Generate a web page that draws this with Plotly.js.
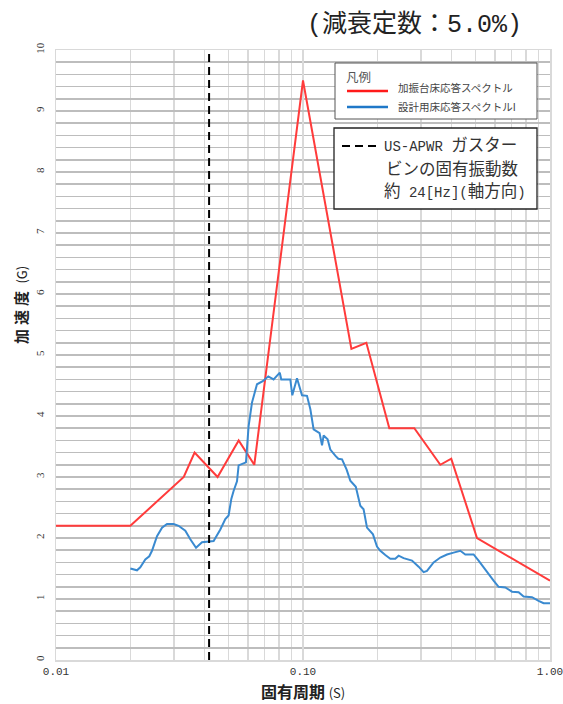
<!DOCTYPE html>
<html>
<head>
<meta charset="utf-8">
<script src="https://cdn.plot.ly/plotly-3.0.1.min.js"></script>
<style>html,body{margin:0;padding:0;background:#fff;}#chart{width:563px;height:704px;}</style>
</head>
<body>
<div id="chart"></div>
<script>
// ---- data ----
const redPeriod = [0.01, 0.02, 0.0329, 0.0364, 0.0451, 0.0549, 0.0635, 0.100, 0.157, 0.1805, 0.2236, 0.2823, 0.3597, 0.3983, 0.5064, 1.0];
const redAccel  = [2.2, 2.2, 3.0, 3.4, 3.0, 3.6, 3.2, 9.5, 5.1, 5.2, 3.8, 3.8, 3.2, 3.3, 2.0, 1.3];

const bluePeriod = [0.0200,0.02128,0.02194,0.02299,0.02386,0.02447,0.02564,0.02687,0.02815,0.02993,
  0.03135,0.03338,0.03498,0.03689,0.03901,0.04254,0.04347,0.04627,0.04847,0.04998,
  0.05126,0.05236,0.05405,0.05487,0.05876,0.06021,0.06215,0.06512,0.06873,0.07235,
  0.07603,0.08055,0.08168,0.08884,0.09051,0.09456,0.09908,0.1038,0.1071,0.1104,
  0.1167,0.1194,0.1212,0.1258,0.1290,0.1351,0.1390,0.1439,0.1502,0.1554,
  0.1636,0.1706,0.1759,0.1816,0.1920,0.1993,0.2056,0.2154,0.2257,0.2364,
  0.2438,0.2554,0.2762,0.2938,0.3078,0.3177,0.3379,0.3597,0.3828,0.4071,
  0.4334,0.4541,0.4906,0.5139,0.5557,0.5910,0.6193,0.6592,0.7019,0.7463,
  0.7819,0.8455,0.8991,0.9421,1.0];
const blueAccel = [1.50,1.47,1.52,1.65,1.70,1.79,2.03,2.17,2.23,2.23,
  2.20,2.12,1.98,1.84,1.93,1.94,1.95,2.14,2.31,2.37,
  2.64,2.77,2.93,3.19,3.24,3.83,4.22,4.52,4.57,4.65,
  4.60,4.71,4.60,4.60,4.34,4.62,4.34,4.33,4.11,3.78,
  3.72,3.52,3.68,3.62,3.45,3.35,3.30,3.29,3.12,2.94,
  2.84,2.53,2.47,2.17,2.06,1.86,1.79,1.72,1.66,1.66,
  1.71,1.67,1.63,1.53,1.44,1.46,1.60,1.68,1.73,1.76,
  1.79,1.73,1.73,1.63,1.44,1.30,1.20,1.19,1.12,1.11,
  1.04,1.03,0.97,0.93,0.93];

const turbineFreqHz = 24;          // US-APWR gas turbine natural frequency (axial)
const markerAccelRange = [0, 10];

const xTickVals = [0.01, 0.1, 1];
const xTickText = ['0.01', '0.10', '1.00'];

const titleText = '(減衰定数：5.0%)';
const xTitleText = '固有周期 <span style="font-size:13px;font-weight:normal">(S)</span>';
const yTitleText = '<span style="letter-spacing:4px">加速度</span> <span style="font-size:13px;font-weight:normal">(G)</span>';
const legendHeader = '凡例';
const redName = '加振台床応答スペクトル';
const blueName = '設計用床応答スペクトルI';
const noteLines = ['US-APWR ガスター', 'ビンの固有振動数', '約 24[Hz](軸方向)'];

// ---- layout helpers (pixel -> paper) ----
const W = 563, H = 704, L = 56, R = 13, T = 50, B = 44;
const pw = W - L - R, ph = H - T - B;
const px = x => (x - L) / pw;
const py = y => (H - B - y) / ph;

const minorX = [];
[0.01, 0.1].forEach(d => { for (let k = 2; k <= 9; k++) minorX.push(+(d * k).toFixed(4)); });

const serif = '"Liberation Serif", "DejaVu Serif", "Noto Sans CJK JP", serif';
const mono = '"Liberation Mono", "Noto Sans CJK JP", monospace';
const cjk = '"Noto Sans CJK JP", sans-serif';

// narrower half-width runs (Mincho-like): wrap ASCII runs in a smaller span
const halfWidth = (s, size) => s.replace(/([\x20-\x7e]+)/g, '<span style="font-size:' + size + 'px">$1</span>');

const traces = [
  { x: redPeriod, y: redAccel, type: 'scatter', mode: 'lines', name: redName,
    line: { color: '#ff3b3b', width: 2 }, hoverinfo: 'skip' },
  { x: bluePeriod, y: blueAccel, type: 'scatter', mode: 'lines', name: blueName,
    line: { color: '#3a8ad0', width: 2 }, hoverinfo: 'skip' },
  { x: [1 / turbineFreqHz, 1 / turbineFreqHz], y: markerAccelRange, type: 'scatter', mode: 'lines',
    name: 'gt', line: { color: '#000', width: 2, dash: '8px,5px' }, hoverinfo: 'skip' }
];

const shapes = [
  // legend box 1
  { type: 'rect', xref: 'paper', yref: 'paper', x0: px(335), x1: px(537), y0: py(63), y1: py(119),
    line: { color: '#555', width: 1 }, fillcolor: '#fff', layer: 'above' },
  { type: 'line', xref: 'paper', yref: 'paper', x0: px(347), x1: px(388), y0: py(91), y1: py(91),
    line: { color: '#ff1a1a', width: 2.5 } },
  { type: 'line', xref: 'paper', yref: 'paper', x0: px(347), x1: px(388), y0: py(107), y1: py(107),
    line: { color: '#1f78c8', width: 2.5 } },
  // legend box 2
  { type: 'rect', xref: 'paper', yref: 'paper', x0: px(334), x1: px(537), y0: py(128), y1: py(209),
    line: { color: '#222', width: 1.3 }, fillcolor: '#fff', layer: 'above' },
  { type: 'line', xref: 'paper', yref: 'paper', x0: px(342), x1: px(376), y0: py(146), y1: py(146),
    line: { color: '#000', width: 2, dash: '8px,5px' } }
];

const annotations = [
  { text: titleText, xref: 'paper', yref: 'paper', x: px(524), y: py(25), xanchor: 'right', yanchor: 'middle',
    showarrow: false, font: { family: mono, size: 25, color: '#222' } },
  { text: yTitleText, xref: 'paper', yref: 'paper', x: px(20), y: py(305), xanchor: 'center', yanchor: 'middle',
    textangle: -90, showarrow: false, font: { family: cjk, size: 15, color: '#222', weight: 'bold' } },
  { text: xTitleText, xref: 'paper', yref: 'paper', x: px(303), y: py(691), xanchor: 'center', yanchor: 'middle',
    showarrow: false, font: { family: cjk, size: 16, color: '#222', weight: 'bold' } },
  { text: legendHeader, xref: 'paper', yref: 'paper', x: px(344), y: py(76), xanchor: 'left', yanchor: 'middle',
    showarrow: false, font: { family: cjk, size: 12.5, color: '#555' } },
  { text: redName, xref: 'paper', yref: 'paper', x: px(396), y: py(87), xanchor: 'left', yanchor: 'middle',
    showarrow: false, font: { family: cjk, size: 10.5, color: '#444' } },
  { text: blueName, xref: 'paper', yref: 'paper', x: px(396), y: py(107), xanchor: 'left', yanchor: 'middle',
    showarrow: false, font: { family: cjk, size: 10.5, color: '#444' } },
  { text: halfWidth(noteLines[0], 14), xref: 'paper', yref: 'paper', x: px(382), y: py(146), xanchor: 'left', yanchor: 'middle',
    showarrow: false, font: { family: mono, size: 16.5, color: '#333' } },
  { text: halfWidth(noteLines[1], 14), xref: 'paper', yref: 'paper', x: px(384), y: py(170), xanchor: 'left', yanchor: 'middle',
    showarrow: false, font: { family: mono, size: 16.5, color: '#333' } },
  { text: halfWidth(noteLines[2], 14), xref: 'paper', yref: 'paper', x: px(382), y: py(192), xanchor: 'left', yanchor: 'middle',
    showarrow: false, font: { family: mono, size: 16.5, color: '#333' } }
];

const layout = {
  width: W, height: H,
  margin: { l: L, r: R, t: T, b: B, pad: 0 },
  paper_bgcolor: '#fff', plot_bgcolor: '#fff',
  showlegend: false,
  xaxis: {
    type: 'log', range: [-2, 0],
    tickvals: xTickVals, ticktext: xTickText, ticks: '',
    tickfont: { family: mono, size: 11, color: '#333' },
    ticklabeloverflow: 'allow',
    showgrid: true, gridcolor: '#d9d9d9', gridwidth: 1.5,
    minor: { tickvals: minorX, showgrid: true, gridcolor: '#d9d9d9', gridwidth: 1.5, ticks: '' },
    showline: true, mirror: true, linecolor: '#d9d9d9', linewidth: 1.5,
    zeroline: false, fixedrange: true
  },
  yaxis: {
    range: [0, 10], dtick: 1, tick0: 0, ticks: '',
    tickangle: -90,
    tickfont: { family: serif, size: 11, color: '#333' },
    showgrid: true, gridcolor: '#bdbdbd', gridwidth: 1.5,
    minor: { dtick: 0.2, showgrid: true, gridcolor: '#bdbdbd', gridwidth: 1.5, ticks: '' },
    showline: true, mirror: true, linecolor: '#d9d9d9', linewidth: 1.5,
    zeroline: false, fixedrange: true, ticklabelstandoff: 6
  },
  shapes: shapes,
  annotations: annotations
};

Plotly.newPlot('chart', traces, layout, { staticPlot: true, displayModeBar: false });
</script>
</body>
</html>
